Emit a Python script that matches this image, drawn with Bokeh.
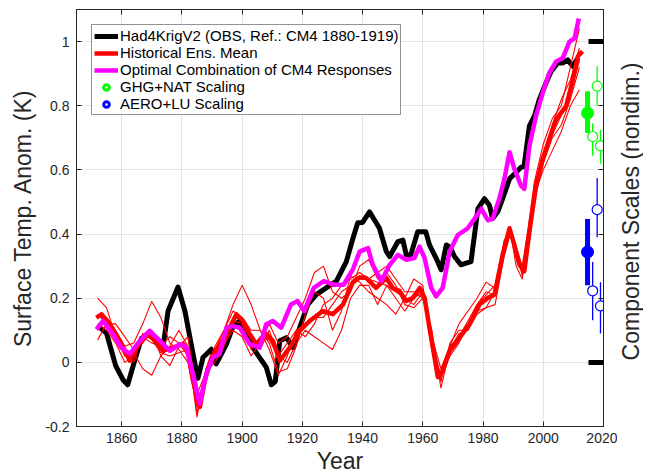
import math
from bokeh.plotting import figure
from bokeh.layouts import row
from bokeh.models import Range1d, LinearAxis, FixedTicker, Legend, LegendItem
from bokeh.core.properties import value
from bokeh.embed import file_html
from bokeh.resources import INLINE

# ---------------- data ----------------
OBS_YEARS = [1852, 1855, 1858, 1860.5, 1862, 1864.3, 1866.6, 1868.8, 1871.5, 1873.7,
             1875.4, 1878.7, 1881, 1883.7, 1885.3, 1887, 1889.8, 1891.4, 1894.8, 1897,
             1899.2, 1901.4, 1903.6, 1905.8, 1908, 1909.7, 1911, 1912.5, 1914.7, 1916.9,
             1919.1, 1921.8, 1924.6, 1927.9, 1931.3, 1934.6, 1936.8, 1938.4, 1940, 1942.3,
             1944, 1945.6, 1947.9, 1949, 1951.7, 1953.4, 1954.5, 1956, 1958.3, 1961,
             1962.2, 1964.4, 1966.1, 1967.8, 1969, 1970.5, 1972.7, 1974.4, 1976, 1978.3,
             1980.5, 1982.1, 1983.2, 1984.9, 1986.5, 1988.8, 1991, 1992.6, 1993.6, 1995.4,
             1997.1, 1998.7, 2000.9, 2002.6, 2004.8, 2006.4, 2008.1, 2009.8, 2011.5]
OBS_VALUES = [0.115, 0.09, -0.01, -0.055, -0.07, 0.005, 0.075, 0.088, 0.068, 0.046,
              0.16, 0.235, 0.16, 0.026, -0.05, 0.015, 0.041, -0.005, 0.057, 0.113,
              0.129, 0.088, 0.046, 0.015, -0.015, -0.07, -0.06, 0.067, 0.077, 0.046,
              0.108, 0.18, 0.211, 0.232, 0.253, 0.314, 0.387, 0.435, 0.436, 0.469,
              0.443, 0.418, 0.345, 0.33, 0.376, 0.381, 0.335, 0.335, 0.407, 0.407,
              0.366, 0.325, 0.289, 0.366, 0.36, 0.33, 0.304, 0.309, 0.314, 0.479,
              0.51, 0.49, 0.448, 0.47, 0.51, 0.572, 0.593, 0.608, 0.61, 0.737,
              0.768, 0.82, 0.871, 0.907, 0.933, 0.933, 0.943, 0.923, 0.949]

OPT_YEARS = [1851.6, 1853.8, 1857.1, 1859.9, 1862.7, 1866, 1869.3, 1872.7, 1876, 1879.3,
             1881.5, 1883.7, 1885.9, 1888.1, 1890.3, 1892.5, 1894.8, 1897, 1899.2, 1902.5,
             1905.8, 1908, 1910.2, 1913, 1916.2, 1918.4, 1920.6, 1923.8, 1927.1, 1930.4,
             1933.7, 1936.8, 1939, 1941.8, 1943.4, 1946.2, 1949, 1951.7, 1954.5, 1957.2,
             1958.9, 1960.6, 1962.8, 1964.4, 1966.6, 1968.9, 1971.6, 1974.9, 1977.2, 1979.4,
             1981.6, 1983.2, 1985.4, 1987.1, 1988.8, 1990.4, 1992.6, 1993.7, 1995.4, 1997.6,
             1999.8, 2002, 2004.3, 2006.5, 2008.7, 2010.4, 2011.8]
OPT_VALUES = [0.103, 0.129, 0.088, 0.046, 0.026, 0.067, 0.098, 0.067, 0.036, 0.057,
              0.046, -0.036, -0.129, -0.036, 0.015, 0.026, 0.108, 0.113, 0.108, 0.057,
              0.046, 0.119, 0.129, 0.108, 0.18, 0.191, 0.16, 0.232, 0.253, 0.242,
              0.242, 0.29, 0.345, 0.356, 0.304, 0.253, 0.304, 0.335, 0.32, 0.325,
              0.361, 0.325, 0.232, 0.206, 0.232, 0.345, 0.397, 0.418, 0.448, 0.479,
              0.443, 0.448, 0.51, 0.572, 0.655, 0.603, 0.551, 0.541, 0.675, 0.768,
              0.84, 0.902, 0.938, 0.949, 1.0, 1.01, 1.072]

MEAN_YEARS = [1851.6, 1853.3, 1856, 1859.4, 1862.7, 1864.9, 1868.2, 1870.4, 1873.7, 1877,
              1880.4, 1881.9, 1883.7, 1886, 1887.6, 1889.8, 1892, 1894.8, 1898.1, 1900.3,
              1902.5, 1904.7, 1908, 1910.2, 1912.5, 1915.8, 1919.1, 1922.4, 1926.8, 1930.1,
              1933.5, 1936.8, 1939, 1941.2, 1944.5, 1947.9, 1950, 1952.3, 1954.5, 1956.7,
              1959, 1960.6, 1962.2, 1963.9, 1965, 1966.6, 1968.9, 1972.2, 1975.5, 1978.8,
              1981.6, 1983.8, 1986.5, 1988.8, 1990.4, 1992.1, 1993.7, 1995.4, 1997.6, 1999.8,
              2002, 2004.3, 2005.9, 2007.6, 2009.8, 2011.5, 2013]
MEAN_VALUES = [0.139, 0.15, 0.119, 0.067, 0.005, 0.046, 0.088, 0.077, 0.036, 0.046,
               0.057, 0.036, -0.057, -0.139, -0.057, 0.015, 0.046, 0.088, 0.15, 0.129,
               0.088, 0.057, 0.088, 0.067, 0.005, 0.046, 0.098, 0.129, 0.16, 0.15,
               0.18, 0.25, 0.265, 0.263, 0.232, 0.263, 0.232, 0.222, 0.191, 0.201,
               0.232, 0.201, 0.108, 0.015, -0.046, -0.026, 0.036, 0.077, 0.119, 0.18,
               0.201, 0.211, 0.335, 0.418, 0.366, 0.304, 0.284, 0.407, 0.551, 0.634,
               0.696, 0.758, 0.778, 0.799, 0.88, 0.954, 0.97]

MEMBER_YEARS = [1852, 1855, 1858, 1861, 1864, 1867, 1870, 1873, 1876, 1879,
                1882, 1885, 1888, 1891, 1894, 1897, 1900, 1903, 1906, 1909,
                1912, 1915, 1918, 1921, 1924, 1927, 1930, 1933, 1936, 1939,
                1942, 1945, 1948, 1951, 1954, 1957, 1960, 1963, 1966, 1969,
                1972, 1975, 1978, 1981, 1984, 1987, 1989, 1991, 1993, 1995,
                1997, 2000, 2003, 2006, 2009, 2012]
MEMBER_1 = [0.20, 0.17, 0.08, 0.02, 0.03, -0.02, -0.04, 0.02, 0.05, 0.10,
            0.05, -0.17, -0.02, 0.05, 0.10, 0.18, 0.24, 0.18, 0.10, 0.06,
            -0.03, -0.02, 0.05, 0.15, 0.22, 0.20, 0.10, 0.16, 0.27, 0.25,
            0.22, 0.20, 0.18, 0.15, 0.20, 0.26, 0.24, 0.05, -0.06, 0.06,
            0.10, 0.10, 0.15, 0.17, 0.22, 0.38, 0.41, 0.30, 0.26, 0.38,
            0.52, 0.60, 0.66, 0.72, 0.80, 0.85]
MEMBER_2 = [0.10, 0.14, 0.10, 0.05, 0.06, 0.12, 0.19, 0.14, 0.06, 0.04,
            0.00, -0.14, -0.04, 0.02, 0.06, 0.10, 0.08, 0.02, 0.06, 0.12,
            0.06, 0.08, 0.14, 0.20, 0.28, 0.30, 0.22, 0.20, 0.22, 0.30,
            0.32, 0.26, 0.28, 0.24, 0.18, 0.17, 0.20, 0.08, -0.02, 0.05,
            0.12, 0.16, 0.20, 0.25, 0.23, 0.34, 0.40, 0.36, 0.30, 0.42,
            0.56, 0.68, 0.76, 0.80, 0.92, 1.04]
MEMBER_3 = [0.07, 0.12, 0.12, 0.08, 0.04, 0.06, 0.10, 0.02, -0.01, 0.05,
            0.08, -0.10, -0.03, 0.00, 0.05, 0.12, 0.10, 0.06, 0.04, 0.10,
            0.02, 0.00, 0.06, 0.10, 0.08, 0.06, 0.04, 0.10, 0.20, 0.24,
            0.24, 0.18, 0.24, 0.20, 0.16, 0.20, 0.22, 0.04, -0.05, 0.02,
            0.06, 0.12, 0.16, 0.17, 0.18, 0.33, 0.40, 0.34, 0.28, 0.36,
            0.50, 0.62, 0.70, 0.74, 0.82, 0.92]
MEMBER_4 = [0.12, 0.10, 0.06, 0.00, 0.02, 0.08, 0.06, 0.05, 0.08, 0.06,
            0.02, -0.13, -0.04, 0.04, 0.10, 0.16, 0.14, 0.10, 0.10, 0.04,
            -0.04, 0.02, 0.10, 0.08, 0.12, 0.18, 0.20, 0.24, 0.26, 0.28,
            0.26, 0.28, 0.30, 0.26, 0.22, 0.22, 0.20, 0.10, -0.08, 0.04,
            0.09, 0.10, 0.18, 0.21, 0.24, 0.37, 0.42, 0.33, 0.29, 0.40,
            0.54, 0.65, 0.74, 0.82, 0.88, 0.98]
MEMBER_5 = [0.15, 0.12, 0.09, 0.04, 0.00, 0.09, 0.07, 0.03, 0.02, 0.03,
            0.04, -0.16, -0.02, 0.04, 0.08, 0.13, 0.12, 0.04, 0.08, 0.07,
            0.02, 0.06, 0.10, 0.12, 0.14, 0.14, 0.18, 0.22, 0.24, 0.26,
            0.26, 0.25, 0.24, 0.22, 0.20, 0.18, 0.22, 0.06, -0.04, 0.05,
            0.08, 0.13, 0.18, 0.22, 0.21, 0.35, 0.41, 0.35, 0.27, 0.38,
            0.52, 0.63, 0.71, 0.77, 0.84, 0.94]
MEMBERS = [MEMBER_1, MEMBER_2, MEMBER_3, MEMBER_4, MEMBER_5]

# component scaling factors (best estimate + individual estimates)
SCALE_BEST_X = [2014.7]
SCALE_MEMBER_X = [2017.9, 2016.4, 2019.0]
GHG_BEST = [0.777]
GHG_BEST_LO = [0.715]
GHG_BEST_HI = [0.845]
GHG_MEMBERS = [0.861, 0.704, 0.675]
GHG_LO = [0.800, 0.644, 0.619]
GHG_HI = [0.923, 0.745, 0.725]
AERO_BEST = [0.344]
AERO_BEST_LO = [0.240]
AERO_BEST_HI = [0.447]
AERO_MEMBERS = [0.476, 0.223, 0.176]
AERO_LO = [0.390, 0.131, 0.090]
AERO_HI = [0.575, 0.313, 0.250]

Y_TICKS = [-0.2, 0, 0.2, 0.4, 0.6, 0.8, 1.0]
Y_TICK_LABELS = ["-0.2", "0", "0.2", "0.4", "0.6", "0.8", "1"]
X_TICKS = [1860, 1880, 1900, 1920, 1940, 1960, 1980, 2000, 2020]
RIGHT_TICKS = [0, 1]
RIGHT_LABEL = "Component Scales (nondim.)"

# ---------------- figure ----------------
FONT = "Liberation Sans"
AX = "#262626"
TOTAL_H = 471

p = figure(frame_width=527, frame_height=417, output_backend="svg", toolbar_location=None,
           x_range=Range1d(1845, 2020), y_range=Range1d(-0.2, 1.1),
           min_border_left=76, min_border_top=9, min_border_right=14, min_border_bottom=44)
p.background_fill_color = "white"
p.outline_line_color = AX
p.outline_line_width = 1


def style(ax):
    ax.axis_line_color = AX
    ax.major_tick_line_color = AX
    ax.major_tick_in = 5
    ax.major_tick_out = 0
    ax.minor_tick_line_color = None
    ax.major_label_text_font = FONT
    ax.major_label_text_font_size = "14px"
    ax.major_label_text_color = AX
    ax.axis_label_text_font = FONT
    ax.axis_label_text_font_size = "23px"
    ax.axis_label_text_font_style = "normal"
    ax.axis_label_text_color = AX


xa = p.xaxis[0]
style(xa)
xa.ticker = FixedTicker(ticks=X_TICKS)
xa.axis_label = "Year"
xa.major_label_standoff = 6
xa.axis_label_standoff = 2

ya = p.yaxis[0]
style(ya)
ya.ticker = FixedTicker(ticks=Y_TICKS)
ya.major_label_overrides = {t: s for t, s in zip(Y_TICKS, Y_TICK_LABELS)}
ya.axis_label = "Surface Temp. Anom. (K)"
ya.major_label_standoff = 7
ya.axis_label_standoff = 6

top = LinearAxis(ticker=FixedTicker(ticks=X_TICKS))
style(top)
top.major_label_overrides = {t: "" for t in X_TICKS}
top.major_label_text_font_size = "1px"
top.major_label_standoff = 0
p.add_layout(top, "above")

right = LinearAxis(ticker=FixedTicker(ticks=RIGHT_TICKS, minor_ticks=[-0.2, 0.2, 0.4, 0.6, 0.8]))
style(right)
right.major_tick_line_color = "black"
right.major_tick_line_width = 5
right.major_tick_in = 15
right.major_tick_line_cap = "butt"
right.minor_tick_line_color = AX
right.minor_tick_in = 5
right.minor_tick_out = 0
right.major_label_overrides = {t: "" for t in RIGHT_TICKS}
right.major_label_text_font_size = "1px"
right.major_label_standoff = 0
p.add_layout(right, "right")

p.xgrid.ticker = FixedTicker(ticks=X_TICKS)
p.ygrid.ticker = FixedTicker(ticks=Y_TICKS)
for g in (p.xgrid[0], p.ygrid[0]):
    g.grid_line_color = "#e3e3e3"
    g.grid_line_width = 1

# ---------------- series ----------------
r_obs = p.line(OBS_YEARS, OBS_VALUES, line_color="black", line_width=5, line_join="round")
for m in MEMBERS:
    p.line(MEMBER_YEARS, m, line_color="#ff0000", line_width=1.1, line_join="round")
r_mean = p.line(MEAN_YEARS, MEAN_VALUES, line_color="#ff0000", line_width=4.5, line_join="round")
r_opt = p.line(OPT_YEARS, OPT_VALUES, line_color="#ff00ff", line_width=4.5, line_join="round")

# scaling factors
GREEN = "#00ff00"
BLUE = "#0000ff"
p.segment(SCALE_MEMBER_X, GHG_LO, SCALE_MEMBER_X, GHG_HI, line_color=GREEN, line_width=1.3)
p.segment(SCALE_BEST_X, GHG_BEST_LO, SCALE_BEST_X, GHG_BEST_HI, line_color=GREEN, line_width=5)
p.scatter(SCALE_MEMBER_X, GHG_MEMBERS, marker="circle", size=10, line_color=GREEN,
          line_width=1.2, fill_color="white")
p.scatter(SCALE_BEST_X, GHG_BEST, marker="circle", size=12, line_color=GREEN, fill_color=GREEN)

p.segment(SCALE_MEMBER_X, AERO_LO, SCALE_MEMBER_X, AERO_HI, line_color=BLUE, line_width=1.3)
p.segment(SCALE_BEST_X, AERO_BEST_LO, SCALE_BEST_X, AERO_BEST_HI, line_color=BLUE, line_width=5)
p.scatter(SCALE_MEMBER_X, AERO_MEMBERS, marker="circle", size=10, line_color=BLUE,
          line_width=1.2, fill_color="white")
p.scatter(SCALE_BEST_X, AERO_BEST, marker="circle", size=12, line_color=BLUE, fill_color=BLUE)

# legend-only glyphs (NaN data: nothing drawn in the plot itself)
NAN = [float("nan")]
lg_g = p.scatter(NAN, NAN, marker="circle", size=11, line_color=GREEN, line_width=3, fill_color=None)
lg_b = p.scatter(NAN, NAN, marker="circle", size=11, line_color=BLUE, line_width=3, fill_color=None)

legend = Legend(items=[
    LegendItem(label="Had4KrigV2 (OBS, Ref.: CM4 1880-1919)", renderers=[r_obs]),
    LegendItem(label="Historical Ens. Mean", renderers=[r_mean]),
    LegendItem(label="Optimal Combination of CM4 Responses", renderers=[r_opt]),
    LegendItem(label="GHG+NAT Scaling", renderers=[lg_g]),
    LegendItem(label="AERO+LU Scaling", renderers=[lg_b]),
], location="top_left")
legend.margin = 15
legend.padding = 2
legend.spacing = -3
legend.label_text_font = FONT
legend.label_text_font_size = "15px"
legend.label_text_line_height = 1.0
legend.label_text_color = "black"
legend.label_height = 14
legend.glyph_height = 14
legend.glyph_width = 24
legend.label_standoff = 2
legend.border_line_color = AX
legend.border_line_width = 1
legend.background_fill_alpha = 1
p.add_layout(legend)

# ---------------- right-hand axis title (reads bottom-to-top) ----------------
LW = 26
q = figure(frame_width=LW, frame_height=TOTAL_H, output_backend="svg", toolbar_location=None,
           x_range=Range1d(0, LW), y_range=Range1d(TOTAL_H, 0),
           x_axis_type=None, y_axis_type=None,
           min_border_left=0, min_border_right=0, min_border_top=0, min_border_bottom=0)
q.outline_line_color = None
q.background_fill_color = "white"
q.text(x=[13], y=[202], text=[RIGHT_LABEL], angle=math.pi / 2,
       text_align="center", text_baseline="middle",
       text_font=value(FONT), text_font_size="23px", text_color=AX)

layout = row(p, q, spacing=0)
open("out.html", "w").write(file_html(layout, INLINE))
